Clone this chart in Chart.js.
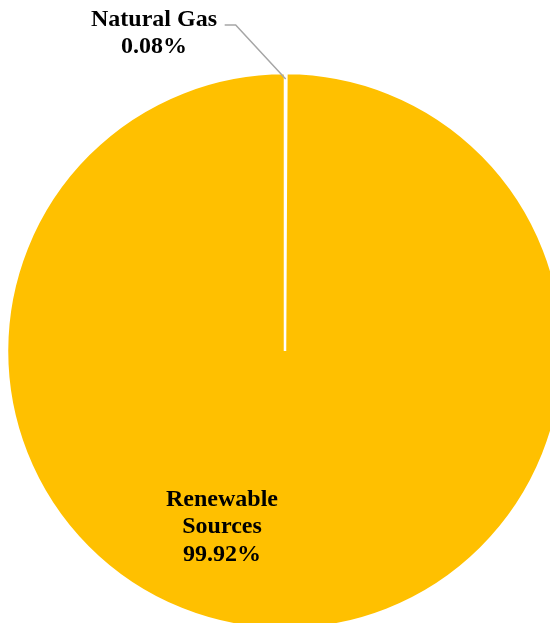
<!DOCTYPE html>
<html>
<head>
<meta charset="utf-8">
<script src="https://cdn.jsdelivr.net/npm/chart.js@4/dist/chart.umd.min.js"></script>
<style>
  html, body { margin: 0; padding: 0; background: #ffffff; overflow: hidden; }
  #wrap { position: relative; width: 550px; height: 623px; }
</style>
</head>
<body>
<div id="wrap"><canvas id="chart"></canvas></div>
<script>
// Electricity generation share by source
const categories = ['Natural Gas', 'Renewable Sources'];
const shares = [0.08, 99.92];
const sliceColors = ['#FFFFFF', '#FFC000'];

const labelFont = 'bold 24px "Liberation Serif", "Times New Roman", serif';

// Draws the slice labels; the small slice gets a leader line
const sliceLabels = {
  id: 'sliceLabels',
  afterDatasetsDraw(chart) {
    const ctx = chart.ctx;
    const arcs = chart.getDatasetMeta(0).data;
    ctx.save();
    ctx.font = labelFont;
    ctx.fillStyle = '#000000';
    ctx.textAlign = 'center';
    ctx.textBaseline = 'middle';

    // Natural Gas: outside label with leader line to the slice's outer edge
    const gas = arcs[0];
    const gMid = (gas.startAngle + gas.endAngle) / 2;
    const ex = gas.x + Math.cos(gMid) * (gas.outerRadius - 6);
    const ey = gas.y + Math.sin(gMid) * (gas.outerRadius - 6);
    ctx.strokeStyle = '#A6A6A6';
    ctx.lineWidth = 1.5;
    ctx.beginPath();
    ctx.moveTo(ex, ey);
    ctx.lineTo(ex - 50, 25);
    ctx.lineTo(ex - 61, 25);
    ctx.stroke();
    ctx.fillText(categories[0], 154, 20);
    ctx.fillText(shares[0].toFixed(2) + '%', 154, 47);

    // Renewable Sources: label inside the slice
    const ren = arcs[1];
    const rx = ren.x - 63, ry = ren.y + 149;
    ctx.fillText('Renewable', rx, ry);
    ctx.fillText('Sources', rx, ry + 27);
    ctx.fillText(shares[1].toFixed(2) + '%', rx, ry + 55);
    ctx.restore();
  }
};

new Chart(document.getElementById('chart'), {
  type: 'pie',
  data: {
    labels: categories,
    datasets: [{
      data: shares,
      backgroundColor: sliceColors,
      borderColor: '#FFFFFF',
      borderWidth: 2.5,
      clip: false
    }]
  },
  options: {
    responsive: true,
    maintainAspectRatio: false,
    animation: false,
    radius: 278,
    layout: { padding: { left: 20, top: 79, right: 0, bottom: 0 } },
    plugins: {
      legend: { display: false },
      tooltip: { enabled: false }
    }
  },
  plugins: [sliceLabels]
});
</script>
</body>
</html>
